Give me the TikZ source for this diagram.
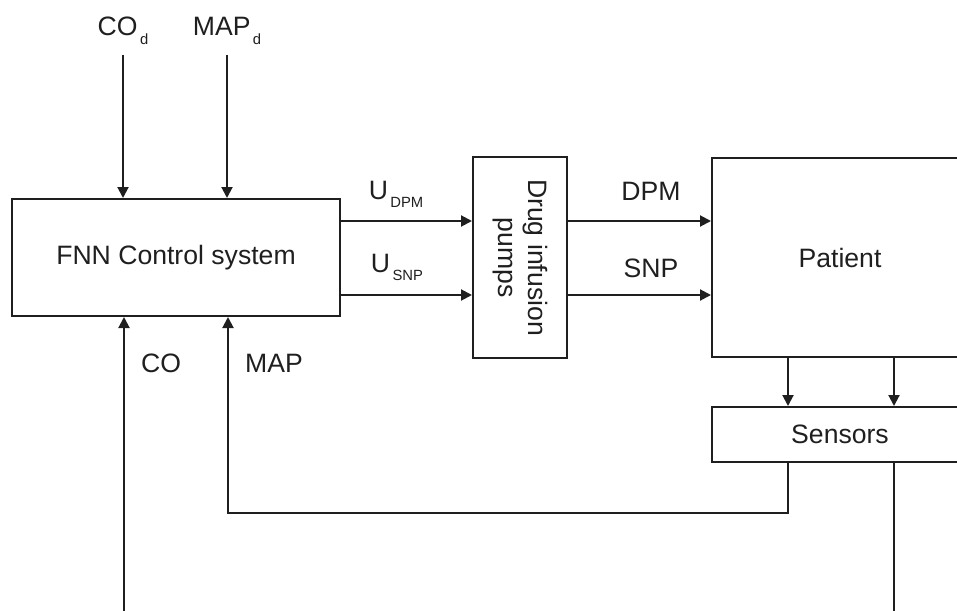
\documentclass[tikz,border=0pt]{standalone}
\usepackage{fontspec}
\setmainfont{Liberation Sans}
\usetikzlibrary{arrows.meta}

% lowered small subscript in the style of the block labels
\newcommand{\lowsub}[1]{\kern1.2pt\raisebox{-4.3pt}{\fontsize{7.4}{8}\selectfont #1}}

\begin{document}
\begin{tikzpicture}[x=0.5pt,y=-0.5pt,
  every node/.style={font=\fontsize{13.3}{15}\selectfont, text=black!88},
  blk/.style={draw=black!88, line width=1pt, rectangle, inner sep=0pt},
  wire/.style={draw=black!88, line width=1pt},
  flow/.style={wire, -{Triangle[length=5.5pt,width=5.5pt]}},
  lbl/.style={anchor=base, inner sep=0pt}]

\useasboundingbox (0,0) rectangle (957,610);
\clip (0,0) rectangle (957,610);

% blocks
\node[blk, minimum width=164pt, minimum height=58.5pt] (fnn) at (176,257.5) {FNN Control system};
\node[blk, minimum width=47pt, minimum height=100.5pt] (pump) at (520,257.5) {};
\node[rotate=-90, align=center, font=\fontsize{13.3}{15}\selectfont] (pumptxt) at (520,257.5) {Drug infusion\\pumps};
\node[blk, minimum width=128pt, minimum height=99.5pt] (patient) at (840,257.5) {Patient};
\node[blk, minimum width=128pt, minimum height=27.5pt] (sensors) at (840,434.5) {Sensors};

% set-point inputs
\coordinate (cod) at (123,55);
\coordinate (mapd) at (227,55);
\node[lbl] (codl) at (123,36) {CO\lowsub{d}};
\node[lbl] (mapdl) at (227,36) {MAP\lowsub{d}};
\draw[flow] (cod) -- (cod |- fnn.north);
\draw[flow] (mapd) -- (mapd |- fnn.north);

% control signals to the pumps
\coordinate (ua) at (340,221);
\coordinate (ub) at (340,295);
\draw[flow] (ua) -- (ua -| pump.west);
\draw[flow] (ub) -- (ub -| pump.west);
\node[lbl] (udpm) at (396,199) {U\lowsub{DPM}};
\node[lbl] (usnp) at (397,272) {U\lowsub{SNP}};

% drug flows into the patient
\coordinate (da) at (567,221);
\coordinate (db) at (567,295);
\draw[flow] (da) -- (da -| patient.west);
\draw[flow] (db) -- (db -| patient.west);
\node[lbl] (dpm) at (651,200) {DPM};
\node[lbl] (snp) at (651,277) {SNP};

% patient to sensors
\coordinate (sa) at (788,357);
\coordinate (sb) at (894,357);
\draw[flow] (sa) -- (sa |- sensors.north);
\draw[flow] (sb) -- (sb |- sensors.north);

% feedback paths
\coordinate (mapturn) at (788,513);
\coordinate (mapin) at (228,513);
\draw[flow] (sensors.south -| mapturn) -- (mapturn) -- (mapin) -- (mapin |- fnn.south);
\coordinate (coend) at (894,625);
\draw[wire] (sensors.south -| coend) -- (coend);
\coordinate (costart) at (124,625);
\draw[flow] (costart) -- (costart |- fnn.south);
\node[lbl] (col) at (161,372) {CO};
\node[lbl] (mapl) at (274,372) {MAP};
\end{tikzpicture}
\end{document}
